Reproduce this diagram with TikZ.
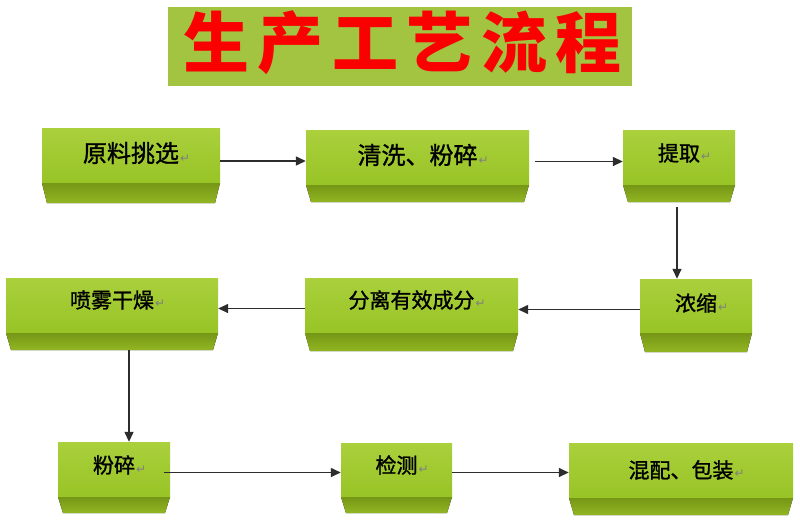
\documentclass[tikz,border=0pt]{standalone}
\usepackage{fontspec}
\newfontfamily\cjk{Noto Sans CJK SC}[FakeBold=1.2]
\newfontfamily\cjktitle{Noto Sans CJK SC}[LetterSpace=13]
\newfontfamily\dejavu{DejaVu Sans}
\usetikzlibrary{arrows.meta,fit}
\definecolor{faceTop}{RGB}{170,208,60}
\definecolor{faceBot}{RGB}{152,196,38}
\definecolor{bevTop}{RGB}{118,150,22}
\definecolor{bevBot}{RGB}{145,182,34}
\definecolor{titleBg}{RGB}{163,196,64}
\definecolor{titleRed}{RGB}{250,0,0}
\definecolor{lineCol}{RGB}{45,45,45}
\tikzset{
  facegrad/.style={top color=faceTop,bottom color=faceBot},
  bevelgrad/.style={top color=bevTop,bottom color=bevBot},
  blockname/.style={inner sep=0pt,draw=none},
  blocktext/.style={inner sep=0pt,text=black,font=\cjk},
  arr/.style={draw=lineCol,line width=1.4pt,-{Triangle[length=10pt,width=9pt]}}
}
\newcommand{\parmk}{\rlap{\hspace{1pt}{\dejavu\fontsize{12}{12}\selectfont\textcolor{black!50}{↵}}}}
% #1 name #2 x1 #3 y1 #4 x2 #5 bevel y #6 bottom y #7 text y #8 size #9 text
\newcommand{\blk}[9]{%
  \fill[facegrad] (#2,#3) rectangle (#4,#5);
  \fill[bevelgrad] (#2,#5) -- (#4,#5) -- ({#4-5},#6) -- ({#2+5},#6) -- cycle;
  \node[blockname,fit={(#2,#3) (#4,#6)}] (#1) {};
  \node[blocktext,font=\cjk\fontsize{#8}{#8}\selectfont] (#1t) at ({(#2+#4)/2},#7) {#9\parmk};
}
\begin{document}
\begin{tikzpicture}[x=1pt,y=-1pt]
\useasboundingbox[fill=white] (0,0) rectangle (800,525);
% title
\node[fill=titleBg,minimum width=464pt,minimum height=79pt,inner sep=0pt] (title) at (400,46.5) {};
\node[text=titleRed,font=\cjktitle\bfseries\fontsize{66}{66}\selectfont,inner sep=0pt] (titletext) at (402.5,43) {生产工艺流程};
% blocks
\blk{b1}{42}{128}{220}{183}{203}{153}{24}{原料挑选}
\blk{b2}{306}{130}{529}{185}{202}{155}{24}{清洗、粉碎}
\blk{b3}{623}{130}{735}{185}{202}{153}{21}{提取}
\blk{b4}{640}{279}{752}{333}{352}{303}{21}{浓缩}
\blk{b5}{6}{278}{218}{333}{350}{300}{21}{喷雾干燥}
\blk{b6}{305}{278}{518}{333}{351}{300}{21}{分离有效成分}
\blk{b7}{58}{442}{170}{497}{513}{465}{21}{粉碎}
\blk{b8}{341}{443}{452}{497}{513}{465}{21}{检测}
\blk{b9}{569}{443}{793}{498}{515}{470}{21}{混配、包装}
% connectors
\coordinate (a1) at ([yshift=4.5pt]b1.east);
\draw[arr] (a1) -- (a1 -| b2.west);
\coordinate (a2) at ([xshift=6pt,yshift=4.5pt]b2.east);
\draw[arr] (a2) -- (a2 -| b3.west);
\coordinate (a3) at ([xshift=-2pt,yshift=-5pt]b3.south);
\draw[arr] (a3) -- (a3 |- b4.north);
\coordinate (a4) at ([yshift=6pt]b4.west);
\draw[arr] (a4) -- (a4 -| b6.east);
\coordinate (a5) at ([yshift=6pt]b6.west);
\draw[arr] (a5) -- (a5 -| b5.east);
\coordinate (a6) at ([xshift=17pt]b5.south);
\draw[arr] (a6) -- (a6 |- b7.north);
\coordinate (a7) at ([xshift=-6pt,yshift=5pt]b7.east);
\draw[arr] (a7) -- (a7 -| b8.west);
\coordinate (a8) at ([yshift=5.5pt]b8.east);
\draw[arr] (a8) -- (a8 -| b9.west);
\end{tikzpicture}
\end{document}
